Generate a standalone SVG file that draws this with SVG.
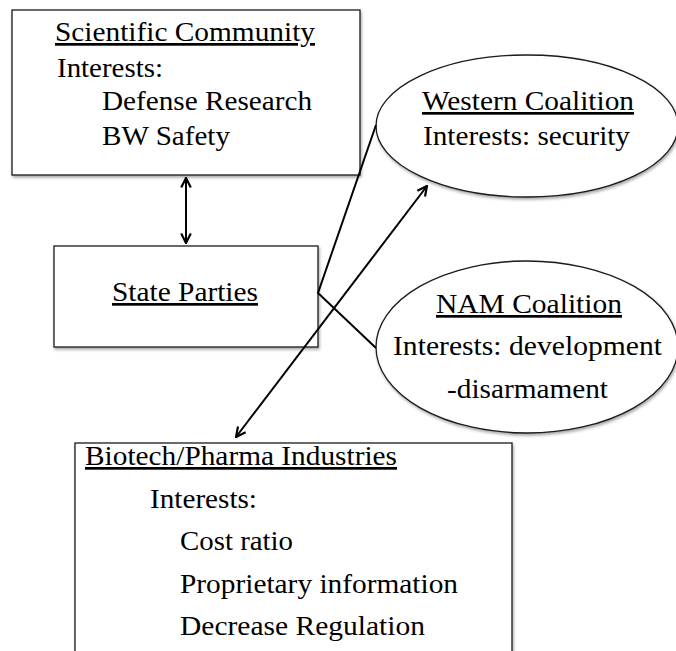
<svg xmlns="http://www.w3.org/2000/svg" width="676" height="651" viewBox="0 0 676 651">
  <style>
    .shape { fill: #ffffff; stroke: #1a1a1a; stroke-width: 1.3; filter: url(#shadow); }
    .t { font-family: "Liberation Serif", "Times New Roman", serif; font-size: 27px; fill: #000; }
    .u { text-decoration: underline; }
    .conn { fill: none; stroke: #000; stroke-width: 2; }
  </style>
  <defs>
    <filter id="shadow" x="-10%" y="-10%" width="130%" height="130%">
      <feDropShadow dx="1" dy="2" stdDeviation="1.5" flood-color="#000" flood-opacity="0.35"/>
    </filter>
    <marker id="arrow" viewBox="0 0 10 10" refX="9" refY="5" markerWidth="12" markerHeight="12" markerUnits="userSpaceOnUse" orient="auto-start-reverse">
      <path d="M1,1 L9,5 L1,9" fill="none" stroke="#000" stroke-width="1.8" stroke-linejoin="miter"/>
    </marker>
  </defs>
  <rect width="676" height="651" fill="#ffffff"/>

  <g id="scientific-community">
    <rect class="shape" x="12" y="10" width="348" height="165"/>
    <text class="t u" x="55" y="41" textLength="260" lengthAdjust="spacingAndGlyphs">Scientific Community</text>
    <text class="t" x="57" y="77" textLength="106" lengthAdjust="spacingAndGlyphs">Interests:</text>
    <text class="t" x="102" y="110" textLength="210" lengthAdjust="spacingAndGlyphs">Defense Research</text>
    <text class="t" x="102" y="145" textLength="128" lengthAdjust="spacingAndGlyphs">BW Safety</text>
  </g>

  <g id="state-parties">
    <rect class="shape" x="54" y="246" width="264" height="101"/>
    <text class="t u" x="112" y="301" textLength="146" lengthAdjust="spacingAndGlyphs">State Parties</text>
  </g>

  <g id="western-coalition">
    <ellipse class="shape" cx="527" cy="126" rx="151" ry="71"/>
    <text class="t u" x="422" y="110" textLength="212" lengthAdjust="spacingAndGlyphs">Western Coalition</text>
    <text class="t" x="423" y="145" textLength="207" lengthAdjust="spacingAndGlyphs">Interests: security</text>
  </g>

  <g id="nam-coalition">
    <ellipse class="shape" cx="527" cy="347" rx="151" ry="86"/>
    <text class="t u" x="436" y="313" textLength="186" lengthAdjust="spacingAndGlyphs">NAM Coalition</text>
    <text class="t" x="393" y="355" textLength="269" lengthAdjust="spacingAndGlyphs">Interests: development</text>
    <text class="t" x="447" y="398" textLength="161" lengthAdjust="spacingAndGlyphs">-disarmament</text>
  </g>

  <g id="biotech-pharma">
    <rect class="shape" x="75" y="443" width="437" height="230"/>
    <text class="t u" x="85" y="465" textLength="312" lengthAdjust="spacingAndGlyphs">Biotech/Pharma Industries</text>
    <text class="t" x="150" y="508" textLength="107" lengthAdjust="spacingAndGlyphs">Interests:</text>
    <text class="t" x="180" y="550" textLength="113" lengthAdjust="spacingAndGlyphs">Cost ratio</text>
    <text class="t" x="180" y="593" textLength="278" lengthAdjust="spacingAndGlyphs">Proprietary information</text>
    <text class="t" x="180" y="635" textLength="245" lengthAdjust="spacingAndGlyphs">Decrease Regulation</text>
  </g>

  <g id="connectors">
    <line class="conn" x1="186" y1="178" x2="186" y2="243" marker-start="url(#arrow)" marker-end="url(#arrow)"/>
    <polyline class="conn" points="376,125 318,293 376,348"/>
    <line class="conn" x1="236" y1="437" x2="427" y2="186" marker-start="url(#arrow)" marker-end="url(#arrow)"/>
  </g>
</svg>
